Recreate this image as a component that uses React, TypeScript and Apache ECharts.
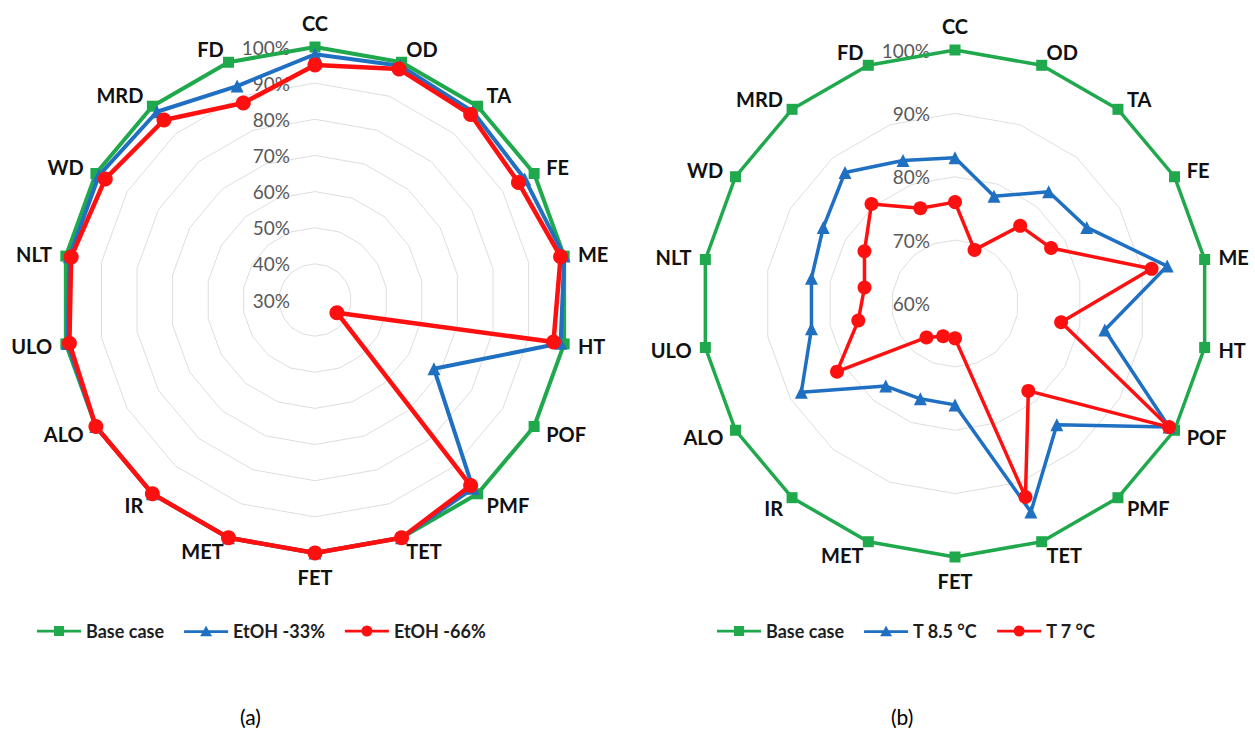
import React, { useEffect, useRef } from "react";
import * as echarts from "echarts";

// Categories in clockwise order starting at the top
const categories = ["CC", "OD", "TA", "FE", "ME", "HT", "POF", "PMF", "TET", "FET", "MET", "IR", "ALO", "ULO", "NLT", "WD", "MRD", "FD"];

// Chart (a)
const baseCaseA = [100, 100, 100, 100, 100, 100, 100, 100, 100, 100, 100, 100, 100, 100, 100, 100, 100, 100];
const etoh33 = [98, 99, 98, 97, 100, 99, 68, 98, 100, 100, 100, 100, 100, 99.5, 99, 99, 98, 93];
const etoh66 = [95, 98, 97, 95, 99, 97, 37, 97, 100, 100, 100, 100, 100, 99, 98.5, 97, 95, 88];
const ticksA = { min: 30, max: 100, splitNumber: 7 };

// Chart (b)
const baseCaseB = [100, 100, 100, 100, 100, 100, 100, 100, 100, 100, 100, 100, 100, 100, 100, 100, 100, 100];
const t85 = [83, 78, 83, 84, 94, 84, 99, 85, 95, 76, 76, 77, 88, 83, 83, 84, 87, 84];
const t7 = [76, 69, 76, 77.5, 91.5, 77, 99, 78, 92.5, 65.5, 65.5, 67, 81.5, 75.5, 74.5, 76.5, 80.5, 76];
const ticksB = { min: 60, max: 100, splitNumber: 4 };

const legendA = ["Base case", "EtOH -33%", "EtOH -66%"];
const legendB = ["Base case", "T 8.5 °C", "T 7 °C"];

const GREEN = "#1fa84c";
const BLUE = "#1f6fc2";
const RED = "#ff1010";
const FONT = "Lato, 'Open Sans', sans-serif";

const ICON_SQUARE = "path://M0,6 L48,6 L48,9 L0,9 Z M18.5,2 L29.5,2 L29.5,13 L18.5,13 Z";
const ICON_TRI = "path://M0,6 L48,6 L48,9 L0,9 Z M24,1 L30.5,12.5 L17.5,12.5 Z";
const ICON_CIRCLE = "path://M0,6 L48,6 L48,9 L0,9 Z M18,7.5 A6,6 0 1 1 30,7.5 A6,6 0 1 1 18,7.5 Z";

// ECharts radar runs counter-clockwise; reorder so the chart reads clockwise
const order = [0, ...categories.map((_, i) => i).slice(1).reverse()];
const cw = <T,>(arr: T[]) => order.map((i) => arr[i]);

function radarCfg(center: number[], radius: number, t: { min: number; max: number; splitNumber: number }) {
  return {
    center,
    radius,
    startAngle: 90,
    shape: "polygon",
    splitNumber: t.splitNumber,
    indicator: cw(categories).map((c, i) => ({
      name: c,
      min: t.min,
      max: t.max,
      axisLabel: i === 0 ? { show: true } : { show: false },
    })),
    axisName: { color: "#111", fontWeight: "bold", fontSize: 20, fontFamily: FONT },
    nameGap: 14,
    axisLine: { show: false },
    axisTick: { show: false },
    splitArea: { show: false },
    splitLine: { lineStyle: { color: "#dedede", width: 1 } },
    axisLabel: {
      show: false,
      fontSize: 19,
      fontFamily: FONT,
      color: "#595959",
      formatter: (v: number) => v + "%",
      margin: 25,
    },
  };
}

export default function App() {
  const ref = useRef<HTMLDivElement>(null);
  useEffect(() => {
    if (!ref.current) return;
    const chart = echarts.init(ref.current, null, { renderer: "svg" });
    const legendText = { fontFamily: FONT, fontWeight: "bold", fontSize: 18, color: "#1e1e1e" };
    chart.setOption({
      animation: false,
      backgroundColor: "#fff",
      radar: [radarCfg([315, 300], 253, ticksA), radarCfg([955, 303.5], 253.5, ticksB)],
      legend: [
        {
          left: 37,
          top: 622,
          padding: 0,
          itemWidth: 44,
          itemHeight: 14,
          itemGap: 20,
          selectedMode: false,
          textStyle: legendText,
          data: [
            { name: legendA[0], icon: ICON_SQUARE },
            { name: legendA[1], icon: ICON_TRI },
            { name: legendA[2], icon: ICON_CIRCLE },
          ],
        },
        {
          left: 717,
          top: 622,
          padding: 0,
          itemWidth: 44,
          itemHeight: 14,
          itemGap: 20,
          selectedMode: false,
          textStyle: legendText,
          data: [
            { name: legendB[0], icon: ICON_SQUARE },
            { name: legendB[1], icon: ICON_TRI },
            { name: legendB[2], icon: ICON_CIRCLE },
          ],
        },
      ],
      graphic: [
        { type: "text", left: 240, top: 706, style: { text: "(a)", fontSize: 21, fontFamily: FONT, fill: "#000" } },
        { type: "text", left: 891, top: 706, style: { text: "(b)", fontSize: 21, fontFamily: FONT, fill: "#000" } },
      ],
      series: [
        {
          type: "radar",
          radarIndex: 0,
          data: [
            { name: legendA[0], value: cw(baseCaseA), symbol: "rect", symbolSize: 11, lineStyle: { color: GREEN, width: 4 }, itemStyle: { color: GREEN } },
            { name: legendA[1], value: cw(etoh33), symbol: "triangle", symbolSize: 13, lineStyle: { color: BLUE, width: 4 }, itemStyle: { color: BLUE } },
            { name: legendA[2], value: cw(etoh66), symbol: "circle", symbolSize: 15, lineStyle: { color: RED, width: 4.5 }, itemStyle: { color: RED } },
          ],
        },
        {
          type: "radar",
          radarIndex: 1,
          data: [
            { name: legendB[0], value: cw(baseCaseB), symbol: "rect", symbolSize: 11, lineStyle: { color: GREEN, width: 3.5 }, itemStyle: { color: GREEN } },
            { name: legendB[1], value: cw(t85), symbol: "triangle", symbolSize: 13, lineStyle: { color: BLUE, width: 3.5 }, itemStyle: { color: BLUE } },
            { name: legendB[2], value: cw(t7), symbol: "circle", symbolSize: 14, lineStyle: { color: RED, width: 3.5 }, itemStyle: { color: RED } },
          ],
        },
      ],
    });
    return () => chart.dispose();
  }, []);
  return <div ref={ref} style={{ position: "fixed", left: 0, top: 0, width: 1255, height: 731 }} />;
}
